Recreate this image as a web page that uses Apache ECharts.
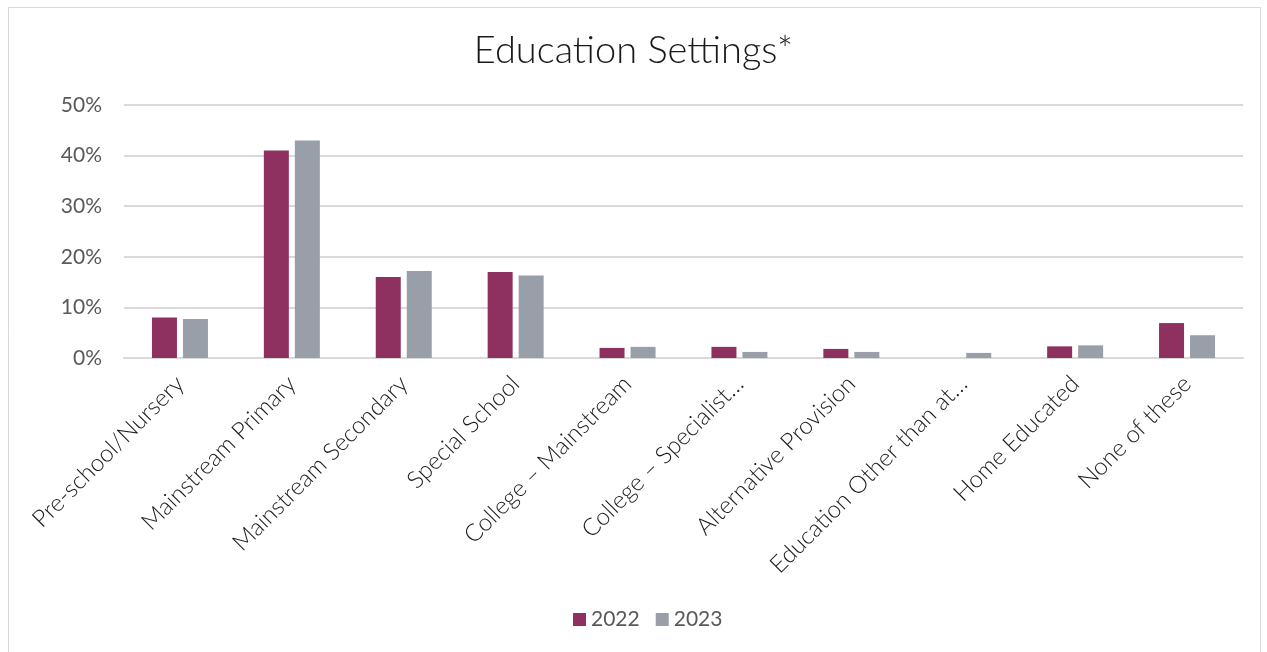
<!DOCTYPE html>
<html>
<head>
<meta charset="utf-8">
<script src="https://cdn.jsdelivr.net/npm/echarts@6/dist/echarts.min.js"></script>
<style>
  html, body { margin: 0; padding: 0; background: #ffffff; }
  #chart { width: 1267px; height: 652px; }
</style>
</head>
<body>
<div id="chart"></div>
<script>
// Share of respondents by education setting, 2022 vs 2023 (percent)
const categories = [
  'Pre-school/Nursery',
  'Mainstream Primary',
  'Mainstream Secondary',
  'Special School',
  'College – Mainstream',
  'College – Specialist…',
  'Alternative Provision',
  'Education Other than at…',
  'Home Educated',
  'None of these'
];
const values2022 = [8.0, 41.0, 16.0, 17.0, 2.0, 2.2, 1.8, 0, 2.3, 6.9];
const values2023 = [7.7, 43.0, 17.2, 16.3, 2.2, 1.2, 1.2, 1.0, 2.5, 4.5];
const seriesNames = ['2022', '2023'];
const yTicks = [0, 10, 20, 30, 40, 50];

const FONT = 'Lato, "Open Sans", sans-serif';
const chart = echarts.init(document.getElementById('chart'));

chart.setOption({
  animation: false,
  backgroundColor: '#ffffff',
  graphic: [{
    type: 'rect',
    shape: { x: 8.5, y: 7.5, width: 1252, height: 660 },
    style: { fill: 'none', stroke: '#d9d9d9', lineWidth: 1 },
    silent: true
  }],
  title: {
    text: 'Education Settings*',
    left: 'center',
    top: 27,
    textStyle: { fontFamily: FONT, fontSize: 38, fontWeight: 300, color: '#1a1a1a' }
  },
  legend: {
    bottom: 17,
    left: 568,
    itemWidth: 13,
    itemHeight: 13,
    itemGap: 16,
    icon: 'rect',
    textStyle: { fontFamily: FONT, fontSize: 21, color: '#595959' },
    data: seriesNames
  },
  grid: { left: 124, right: 24, top: 105, bottom: 294 },
  xAxis: {
    type: 'category',
    data: categories,
    axisTick: { show: false },
    axisLine: { lineStyle: { color: '#d9d9d9', width: 2 } },
    axisLabel: {
      interval: 0,
      rotate: 45,
      margin: 22,
      fontFamily: FONT,
      fontSize: 24,
      fontWeight: 300,
      color: '#1a1a1a'
    }
  },
  yAxis: {
    type: 'value',
    min: yTicks[0],
    max: yTicks[yTicks.length - 1],
    interval: 10,
    axisLine: { show: false },
    axisTick: { show: false },
    splitLine: { lineStyle: { color: '#d9d9d9', width: 2 } },
    axisLabel: {
      formatter: v => v + '%',
      margin: 22,
      fontFamily: FONT,
      fontSize: 21,
      color: '#595959'
    }
  },
  series: [
    {
      name: seriesNames[0],
      type: 'bar',
      data: values2022,
      barWidth: 25,
      barGap: '24%',
      itemStyle: { color: '#8e3060' }
    },
    {
      name: seriesNames[1],
      type: 'bar',
      data: values2023,
      barWidth: 25,
      itemStyle: { color: '#989fa8' }
    }
  ]
});
</script>
</body>
</html>
